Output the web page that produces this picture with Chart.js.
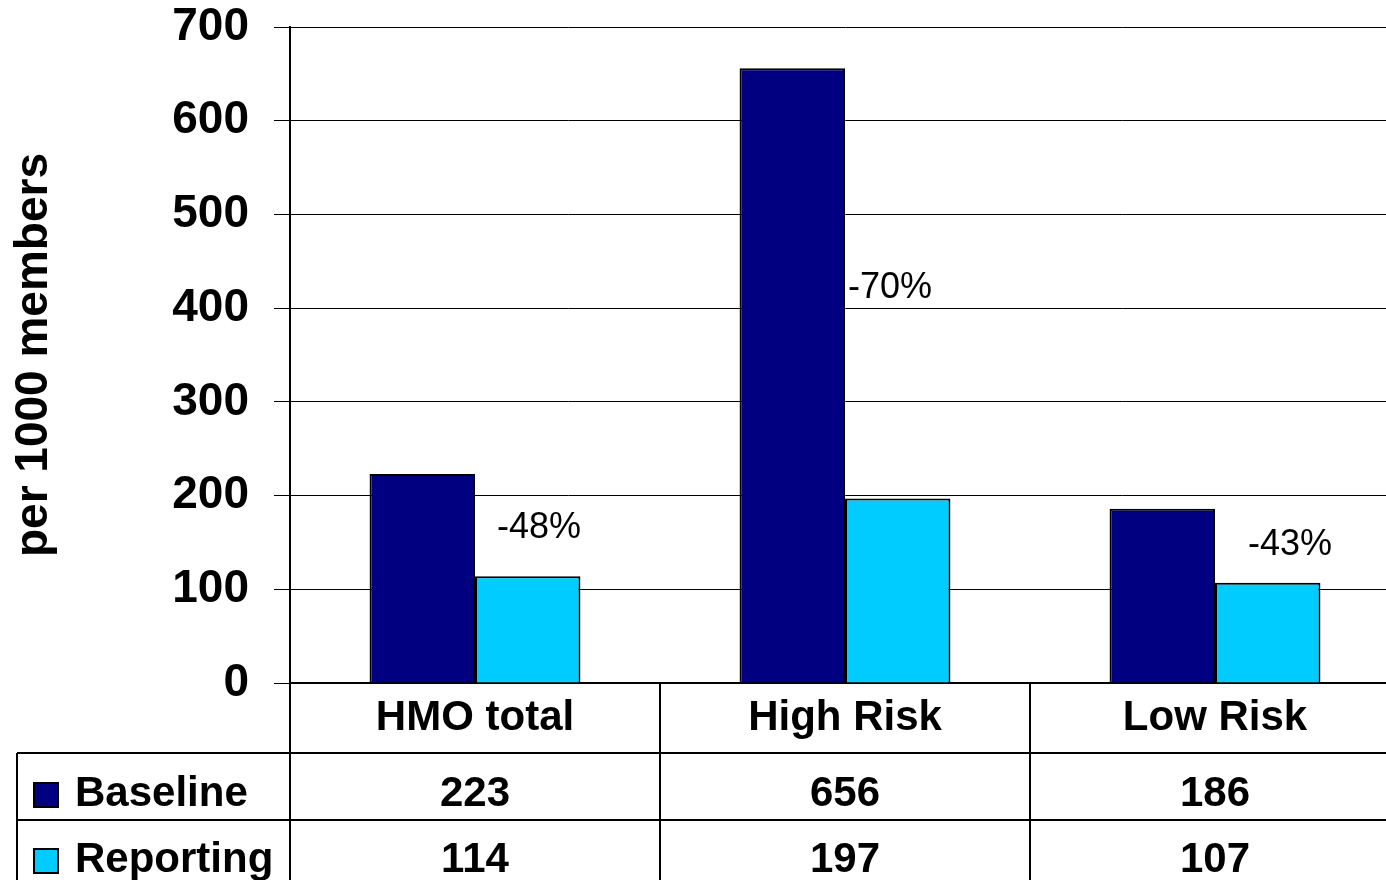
<!DOCTYPE html>
<html>
<head>
<meta charset="utf-8">
<script src="https://cdn.jsdelivr.net/npm/chart.js@4/dist/chart.umd.min.js"></script>
<style>
  html, body { margin: 0; padding: 0; background: #fff; overflow: hidden; }
  canvas { display: block; }
</style>
</head>
<body>
<canvas id="rateChart" width="1400" height="880"></canvas>
<script>
const categories = ["HMO total", "High Risk", "Low Risk"];
const baseline = [223, 656, 186];
const reporting = [114, 197, 107];
const changeLabels = ["-48%", "-70%", "-43%"];
const yTicks = [0, 100, 200, 300, 400, 500, 600, 700];

const NAVY = "#000080";
const CYAN = "#00CCFF";
const FONT = "'Liberation Sans', Arial, sans-serif";

// where the % change notes sit: offset from category centre (px) and height (axis units)
const notePlacement = [
    { dx: 22, y: 155 },
    { dx: 3, y: 411 },
    { dx: 33, y: 137 }
];

// data table under the x axis, like the PowerPoint chart
const dataTable = {
    id: "dataTable",
    afterDraw(chart) {
        const ctx = chart.ctx;
        const x = chart.scales.x;
        const y = chart.scales.y;
        const area = chart.chartArea;
        const catW = (x.right - x.left) / categories.length;
        const row1 = area.bottom + 70;
        const row2 = row1 + 67;
        const tableLeft = 17;

        ctx.save();
        ctx.strokeStyle = "#000";
        ctx.lineWidth = 2;
        ctx.beginPath();
        for (let i = 0; i <= categories.length; i++) {
            const lx = Math.round(x.left + i * catW);
            ctx.moveTo(lx, area.bottom);
            ctx.lineTo(lx, chart.height);
        }
        ctx.moveTo(tableLeft, row1);
        ctx.lineTo(chart.width, row1);
        ctx.moveTo(tableLeft, row2);
        ctx.lineTo(chart.width, row2);
        ctx.moveTo(tableLeft, row1);
        ctx.lineTo(tableLeft, chart.height);
        ctx.stroke();

        // values
        ctx.fillStyle = "#000";
        ctx.font = "bold 42px " + FONT;
        ctx.textAlign = "center";
        ctx.textBaseline = "alphabetic";
        categories.forEach((c, i) => {
            const cx = x.getPixelForValue(i);
            ctx.fillText(String(baseline[i]), cx, row1 + 53);
            ctx.fillText(String(reporting[i]), cx, row2 + 52);
        });

        // legend keys
        const rows = [
            { label: "Baseline", color: NAVY, base: row1 + 53 },
            { label: "Reporting", color: CYAN, base: row2 + 52 }
        ];
        ctx.textAlign = "left";
        rows.forEach(r => {
            ctx.fillStyle = r.color;
            ctx.fillRect(34, r.base - 23, 24, 24);
            ctx.lineWidth = 2;
            ctx.strokeRect(34, r.base - 23, 24, 24);
            ctx.fillStyle = "#000";
            ctx.fillText(r.label, 75, r.base);
        });

        // percent change notes
        ctx.font = "36px " + FONT;
        changeLabels.forEach((t, i) => {
            const p = notePlacement[i];
            ctx.fillText(t, x.getPixelForValue(i) + p.dx, y.getPixelForValue(p.y));
        });
        ctx.restore();
    }
};

const ctx = document.getElementById("rateChart").getContext("2d");

new Chart(ctx, {
    type: "bar",
    data: {
        labels: categories,
        datasets: [
            {
                label: "Baseline",
                data: baseline,
                backgroundColor: NAVY,
                borderColor: "#000",
                borderWidth: 2
            },
            {
                label: "Reporting",
                data: reporting,
                backgroundColor: CYAN,
                borderColor: "#000",
                borderWidth: 2
            }
        ]
    },
    options: {
        responsive: false,
        animation: false,
        layout: { padding: { top: 27, left: 0, right: 0, bottom: 0 } },
        categoryPercentage: 0.57,
        barPercentage: 1,
        plugins: {
            legend: { display: false },
            tooltip: { enabled: false }
        },
        scales: {
            x: {
                grid: { display: false, drawTicks: false, tickLength: 0 },
                border: { display: true, color: "#000", width: 2 },
                ticks: {
                    color: "#000",
                    font: { family: FONT, size: 42, weight: "bold" },
                    padding: 10,
                    maxRotation: 0,
                    autoSkip: false
                },
                afterFit(scale) { scale.height = 197; }
            },
            y: {
                min: 0,
                max: 700,
                afterBuildTicks(scale) { scale.ticks = yTicks.map(v => ({ value: v })); },
                grid: { color: "#000", lineWidth: 1, tickLength: 16 },
                border: { display: true, color: "#000", width: 2 },
                ticks: {
                    color: "#000",
                    // tiny lineHeight so the top label doesn't push the plot down
                    font: { family: FONT, size: 46, weight: "bold", lineHeight: 0.05 },
                    padding: 25
                },
                title: {
                    display: true,
                    text: "per 1000 members",
                    color: "#000",
                    font: { family: FONT, size: 46, weight: "bold" },
                    padding: { top: 7, bottom: 0 }
                },
                afterFit(scale) { scale.width = 290; }
            }
        }
    },
    plugins: [dataTable]
});
</script>
</body>
</html>
